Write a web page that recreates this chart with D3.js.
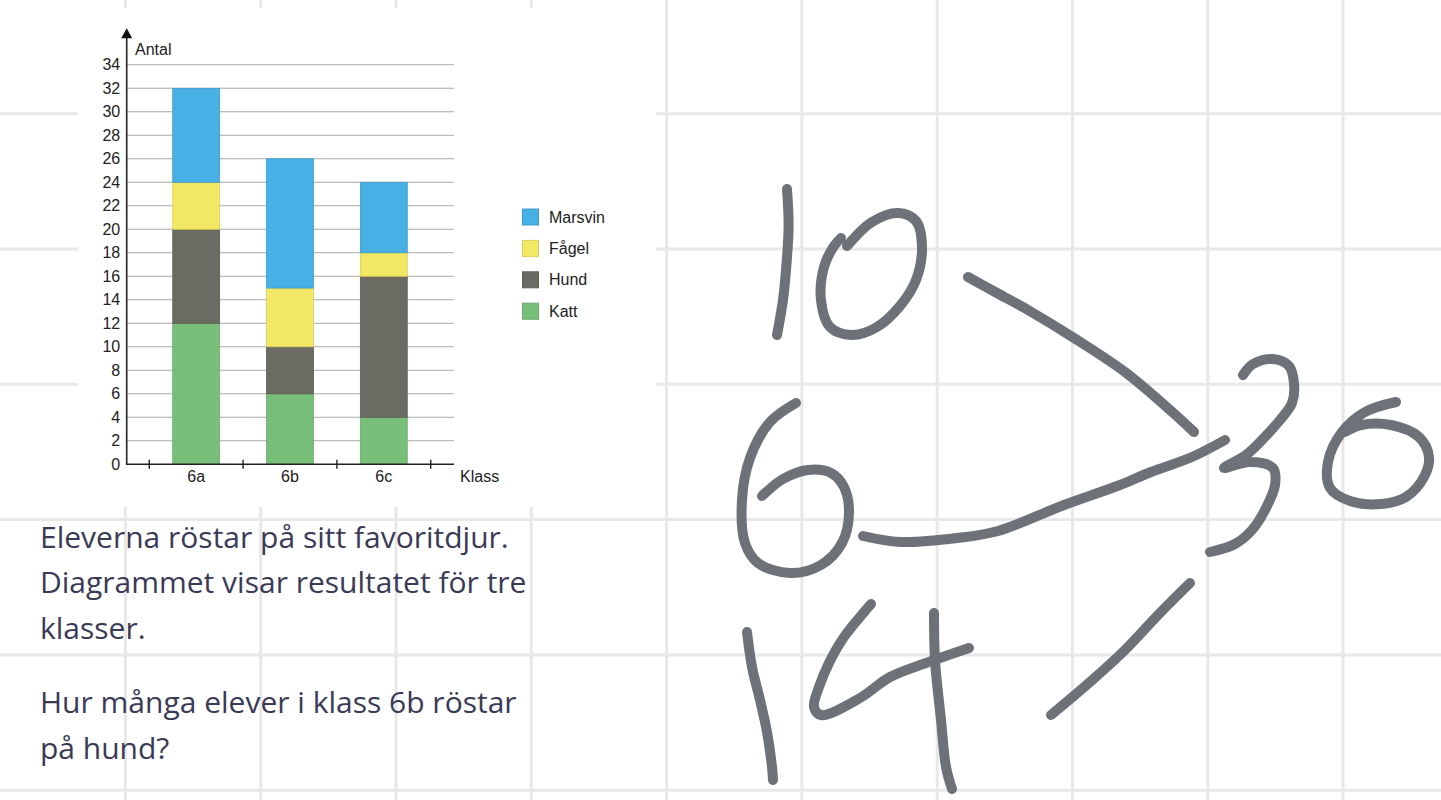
<!DOCTYPE html>
<html>
<head>
<meta charset="utf-8">
<script src="https://cdn.jsdelivr.net/npm/d3@7"></script>
<style>
  html, body { margin: 0; padding: 0; background: #ffffff; }
  svg { display: block; }
</style>
</head>
<body>
<svg id="root" width="1441" height="800"></svg>
<script>
// ---- Chart data ----
const classes = ["6a", "6b", "6c"];
const animals = ["Katt", "Hund", "Fågel", "Marsvin"];        // stacking order (bottom -> top)
const legendOrder = ["Marsvin", "Fågel", "Hund", "Katt"];
const katt    = [12, 6, 4];
const hund    = [8, 4, 12];
const fagel   = [4, 5, 2];
const marsvin = [8, 11, 6];
const yTicks  = [0, 2, 4, 6, 8, 10, 12, 14, 16, 18, 20, 22, 24, 26, 28, 30, 32, 34];
const colors  = { "Marsvin": "#47b0e4", "Fågel": "#f2e864", "Hund": "#6b6a63", "Katt": "#78bf79" };
const strokeCols = { "Marsvin": "#3f9bc9", "Fågel": "#d9cf58", "Hund": "#5e5d57", "Katt": "#69a96b" };

// Question text
const textPara1 = ["Eleverna röstar på sitt favoritdjur.", "Diagrammet visar resultatet för tre", "klasser."];
const textPara2 = ["Hur många elever i klass 6b röstar", "på hund?"];

// Handwritten answer strokes (annotation)
const strokes = [
  [[787,189],[788.6,227],[786,270],[783,300],[777,335]],
  [[847,246],[872,222],[898,213],[916,221],[922,247],[916,280],[900,306],[877,327],[852,335],[830,327],[821,300],[824,267],[834,246],[841,238]],
  [[968,277],[997,293],[1028,310],[1074,338],[1125,372],[1170,410],[1194,432]],
  [[796,403],[770,422],[750,458],[742,500],[745,543],[758,563],[790,573],[821,565],[842,543],[849,513],[844,487],[831,473],[808,470],[783,479],[762,496]],
  [[863,536],[900,542],[957,538],[998,531],[1064,505],[1120,485],[1151,472],[1192,457],[1225,440]],
  [[1243,375],[1253,364],[1273,359],[1289,366],[1294,383],[1292,403],[1280,420],[1262,440],[1246,455],[1224,468],[1250,462],[1273,468],[1275,485],[1265,510],[1252,530],[1235,544],[1210,552]],
  [[1396,402],[1365,412],[1342,432],[1328,462],[1330,488],[1350,501],[1381,504],[1406,497],[1424,477],[1429,457],[1419,437],[1391,425],[1361,425],[1345,432]],
  [[1190,583],[1158,615],[1125,650],[1090,682],[1051,715]],
  [[747,632],[752,667],[760,700],[767,732],[772,767],[773,780]],
  [[871,604],[865,611],[844,637],[829,663],[819,687],[814,707],[821,715],[860,698],[890,677],[926,663],[969,648]],
  [[934,613],[935,660],[941,720],[946,767],[952,789]]
];

const svg = d3.select("#root");

// ---- Background grid paper ----
const gridX = d3.range(10).map(k => 125.4 + 135.3 * k);
const gridY = d3.range(6).map(k => 113.7 + 135.3 * k);
const bg = svg.append("g");
bg.selectAll("line.v").data(gridX).join("line")
  .attr("x1", d => d).attr("x2", d => d).attr("y1", 0).attr("y2", 800)
  .attr("stroke", "#e8e8e8").attr("stroke-width", 3);
bg.selectAll("line.h").data(gridY).join("line")
  .attr("x1", 0).attr("x2", 1441).attr("y1", d => d).attr("y2", d => d)
  .attr("stroke", "#e8e8e8").attr("stroke-width", 3);
// white panel behind the chart image
bg.append("rect").attr("x", 78).attr("y", 8).attr("width", 578).attr("height", 499).attr("fill", "#ffffff");

// ---- Chart ----
const x0 = 126.7, xEnd = 454;
const y = d3.scaleLinear().domain([0, 34]).range([464.3, 64.8]);
const x = d3.scaleBand().domain(classes).range([149.3, 430.7]).paddingInner(0.5).paddingOuter(0.25);
const step = x.step(), bw = x.bandwidth();

const chart = svg.append("g").attr("font-family", "'Liberation Sans', Arial, sans-serif");

// horizontal gridlines
chart.append("g").selectAll("line").data(yTicks.filter(d => d > 0)).join("line")
  .attr("x1", x0).attr("x2", xEnd)
  .attr("y1", d => y(d)).attr("y2", d => y(d))
  .attr("stroke", "#a8a8a8").attr("stroke-width", 1.1);

// stacked bars
const table = classes.map((c, i) => ({ klass: c, "Katt": katt[i], "Hund": hund[i], "Fågel": fagel[i], "Marsvin": marsvin[i] }));
const stack = d3.stack().keys(animals)(table);
chart.append("g").selectAll("g").data(stack).join("g")
  .attr("fill", d => colors[d.key])
  .attr("stroke", d => strokeCols[d.key])
  .attr("stroke-width", 0.8)
  .selectAll("rect").data(d => d).join("rect")
  .attr("x", d => x(d.data.klass))
  .attr("width", bw)
  .attr("y", d => y(d[1]))
  .attr("height", d => y(d[0]) - y(d[1]));

// y axis (labels)
const yAxis = chart.append("g").attr("transform", `translate(${x0},0)`)
  .call(d3.axisLeft(y).tickValues(yTicks).tickSize(0).tickPadding(6.5));
yAxis.select(".domain").remove();
yAxis.selectAll("text").attr("font-size", 16).attr("fill", "#222").attr("font-family", "'Liberation Sans', Arial, sans-serif");

// x axis (labels)
const xAxis = chart.append("g").attr("transform", `translate(0,${y(0)})`)
  .call(d3.axisBottom(x).tickSize(0).tickPadding(6.3));
xAxis.select(".domain").remove();
xAxis.selectAll("text").attr("font-size", 16).attr("fill", "#222").attr("font-family", "'Liberation Sans', Arial, sans-serif");

// axis lines
chart.append("line").attr("x1", x0).attr("x2", xEnd).attr("y1", y(0)).attr("y2", y(0))
  .attr("stroke", "#222").attr("stroke-width", 1.6);
chart.append("line").attr("x1", x0).attr("x2", x0).attr("y1", y(0) + 0.8).attr("y2", 36)
  .attr("stroke", "#222").attr("stroke-width", 1.6);
chart.append("path")
  .attr("d", `M${x0 - 5.5},38.3 L${x0},28.3 L${x0 + 5.5},38.3 Z`)
  .attr("fill", "#111");

// x tick marks at category boundaries
const boundaries = classes.map(c => x(c) + bw / 2 - step / 2).concat([x(classes[2]) + bw / 2 + step / 2]);
chart.append("g").selectAll("line").data(boundaries).join("line")
  .attr("x1", d => d).attr("x2", d => d)
  .attr("y1", y(0) - 4.5).attr("y2", y(0) + 4.5)
  .attr("stroke", "#222").attr("stroke-width", 1.4);

// axis titles
chart.append("text").attr("x", 135).attr("y", 55).attr("font-size", 16).attr("fill", "#222").text("Antal");
chart.append("text").attr("x", 460).attr("y", 482).attr("font-size", 16).attr("fill", "#222").text("Klass");

// legend
const legend = chart.append("g");
legendOrder.forEach((k, i) => {
  const ly = 209 + i * 31.4;
  legend.append("rect").attr("x", 522.5).attr("y", ly).attr("width", 16).attr("height", 16)
    .attr("fill", colors[k]).attr("stroke", strokeCols[k]).attr("stroke-width", 1);
  legend.append("text").attr("x", 549).attr("y", ly + 13.5)
    .attr("font-size", 16).attr("fill", "#222").text(k);
});

// ---- Question text ----
const tg = svg.append("g").attr("font-family", "'Open Sans', sans-serif").attr("font-size", 30).attr("fill", "#3a3a56");
textPara1.forEach((t, i) => tg.append("text").attr("x", 40).attr("y", 547.5 + i * 45.5).text(t));
textPara2.forEach((t, i) => tg.append("text").attr("x", 40).attr("y", 713 + i * 46).text(t));

// ---- Handwriting ----
const pen = d3.line().curve(d3.curveCatmullRom.alpha(0.5));
svg.append("g").selectAll("path").data(strokes).join("path")
  .attr("d", pen)
  .attr("fill", "none")
  .attr("stroke", "#6c7277")
  .attr("stroke-width", 10)
  .attr("stroke-linecap", "round")
  .attr("stroke-linejoin", "round");
</script>
</body>
</html>
